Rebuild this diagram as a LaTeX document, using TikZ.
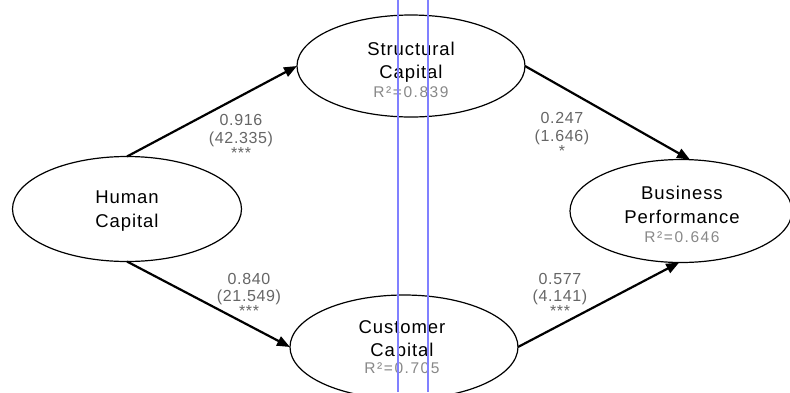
\documentclass[tikz,border=0pt]{standalone}
\usepackage{fontspec}
\setmainfont{Liberation Sans}
\newfontfamily\namefont[LetterSpace=5]{Liberation Sans}
\newfontfamily\numfont[LetterSpace=4]{Liberation Sans}
\newfontfamily\rfont[LetterSpace=10]{Liberation Sans}
\usetikzlibrary{shapes.geometric,arrows.meta}
\definecolor{numgray}{HTML}{666666}
\definecolor{rgray}{HTML}{888888}
\definecolor{guide}{HTML}{8080FF}
\begin{document}
\begin{tikzpicture}[x=1pt,y=-1pt,
 latent/.style={draw=black, line width=1.2pt, ellipse, inner sep=0pt, outer sep=0pt},
 effect/.style={line width=2.2pt, -{Triangle[length=13pt,width=10pt]}},
 lvname/.style={anchor=base, font=\namefont\fontsize{18.5}{22}\selectfont, inner sep=0pt},
 rsq/.style={anchor=base, font=\rfont\fontsize{15.5}{18}\selectfont, text=rgray, inner sep=0pt},
 coef/.style={anchor=base, font=\numfont\fontsize{16}{19}\selectfont, text=numgray, inner sep=0pt},
]
\useasboundingbox (0,0) rectangle (790,392);
\fill[white] (0,0) rectangle (790,392);

% latent variables
\node[latent, minimum width=229pt, minimum height=105pt] (hum) at (127,209) {};
\node[latent, minimum width=228pt, minimum height=102pt] (str) at (411,66) {};
\node[latent, minimum width=228pt, minimum height=104pt] (cus) at (404,347) {};
\node[latent, minimum width=222pt, minimum height=103pt] (bus) at (681,211) {};

% names
\node[lvname] (humA) at (127,203) {Human};
\node[lvname] (humB) at (127,227) {Capital};
\node[lvname] (strA) at (411,55) {Structural};
\node[lvname] (strB) at (411,78) {Capital};
\node[rsq]    (strR) at (411,97) {R²=0.839};
\node[lvname] (cusA) at (402,333) {Customer};
\node[lvname] (cusB) at (402,356) {Capital};
\node[rsq]    (cusR) at (402,373) {R²=0.705};
\node[lvname] (busA) at (682,199) {Business};
\node[lvname] (busB) at (682,223) {Performance};
\node[rsq]    (busR) at (682,242) {R²=0.646};

% paths
\draw[effect] (hum.north) -- (str.west);
\draw[effect] (hum.south) -- (cus.west);
\draw[effect] (str.east) -- (bus.80);
\draw[effect] (cus.east) -- (bus.268);

% coefficients
\node[coef] (c1a) at (241,125) {0.916};
\node[coef] (c1b) at (241,143) {(42.335)};
\node[coef] (c1c) at (241,158) {***};
\node[coef] (c2a) at (562,123) {0.247};
\node[coef] (c2b) at (562,141) {(1.646)};
\node[coef] (c2c) at (562,156) {*};
\node[coef] (c3a) at (249,284) {0.840};
\node[coef] (c3b) at (249,301) {(21.549)};
\node[coef] (c3c) at (249,316) {***};
\node[coef] (c4a) at (560,284) {0.577};
\node[coef] (c4b) at (560,301) {(4.141)};
\node[coef] (c4c) at (560,316) {***};

% guide lines
\draw[guide, line width=1.2pt] (398,0) -- (398,392);
\draw[guide, line width=1.2pt] (428,0) -- (428,392);
\end{tikzpicture}
\end{document}
